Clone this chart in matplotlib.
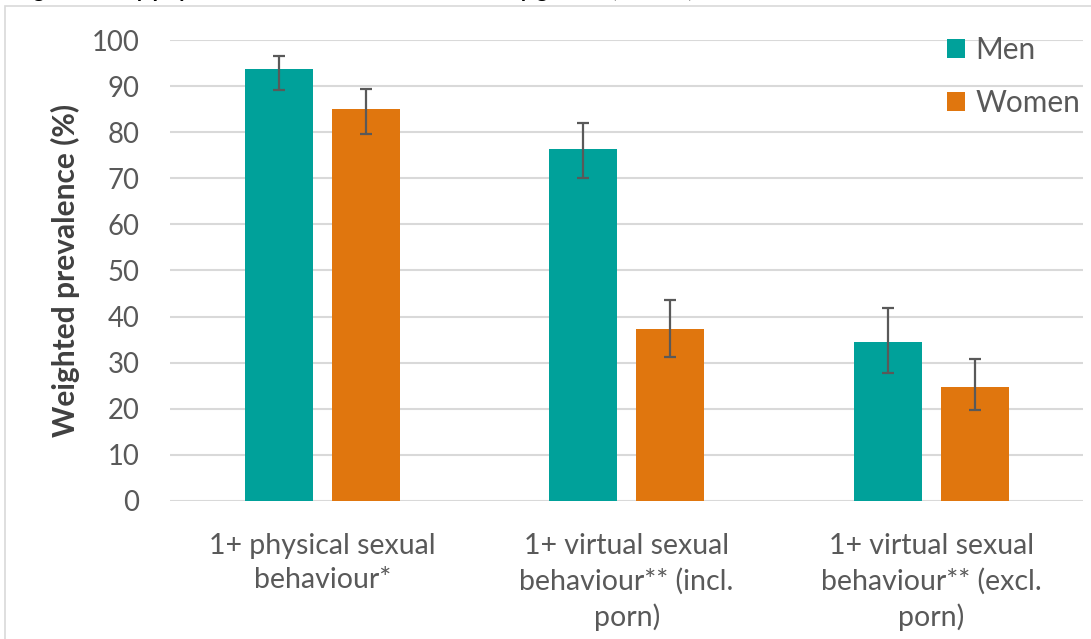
import matplotlib.pyplot as plt
import matplotlib.patches as mpatches
import numpy as np

# data
categories = ["1+ physical sexual\nbehaviour*",
              "1+ virtual sexual\nbehaviour** (incl.\nporn)",
              "1+ virtual sexual\nbehaviour** (excl.\nporn)"]
men = [93.7, 76.4, 34.4]
men_lo = [89.2, 70.1, 27.8]
men_hi = [96.5, 82.1, 41.9]
women = [85.0, 37.2, 24.8]
women_lo = [79.6, 31.3, 19.7]
women_hi = [89.4, 43.7, 30.8]
yticks = [0, 10, 20, 30, 40, 50, 60, 70, 80, 90, 100]

teal = "#00A19A"
orange = "#E0760E"
grey_txt = "#595959"

plt.rcParams['font.family'] = ['Lato', 'DejaVu Sans']

fig = plt.figure(figsize=(10.91, 6.39), dpi=100)
ax = fig.add_axes([0.1558, 0.216, 0.8372, 0.7214])

# chart border (cut off at right / bottom)
fig.patches.append(mpatches.Rectangle((5 / 1091, -0.1), 1.2, 1 - 6 / 639 + 0.1,
                                      transform=fig.transFigure, fill=False,
                                      edgecolor="#d9d9d9", lw=1.2))
# title sits above the top edge, only the descenders show
fig.text(15 / 1091, 1 + 3 / 639, "Figure 1: Any physical or virtual sexual behaviour by gender (95% CI)",
         fontsize=16, fontweight='bold', va='baseline', ha='left', color='black')

x = np.arange(len(categories))
w = 0.223
off = 0.143
men_err = [np.array(men) - np.array(men_lo), np.array(men_hi) - np.array(men)]
women_err = [np.array(women) - np.array(women_lo), np.array(women_hi) - np.array(women)]
ekw = dict(ecolor="#595959", elinewidth=1.6, capsize=4.5, capthick=1.6, zorder=3)

ax.bar(x - off, men, w, color=teal, label="Men", zorder=2, yerr=men_err, error_kw=ekw)
ax.bar(x + off, women, w, color=orange, label="Women", zorder=2, yerr=women_err, error_kw=ekw)

ax.set_xlim(-0.5, 2.5)
ax.set_ylim(0, 100)
ax.set_yticks(yticks)
ax.yaxis.grid(True, color="#d9d9d9", lw=1.5, zorder=0)
ax.set_axisbelow(True)
for s in ax.spines.values():
    s.set_visible(False)
ax.tick_params(axis='y', length=0, labelsize=19.8, labelcolor=grey_txt, pad=22)
ax.set_xticks(x)
ax.set_xticklabels(categories, fontsize=20.5, color=grey_txt, linespacing=1.4)
ax.tick_params(axis='x', length=0, pad=23)

ax.set_ylabel("Weighted prevalence (%)", fontsize=21.5, fontweight='bold', color="#404040", labelpad=8)

leg = ax.legend(loc='upper right', bbox_to_anchor=(1.01, 1.035), frameon=False, fontsize=21.5,
                labelcolor=grey_txt, handlelength=0.6, handleheight=0.6, handletextpad=0.35,
                labelspacing=0.85, borderaxespad=0)

fig.savefig("out.png", dpi=100)
